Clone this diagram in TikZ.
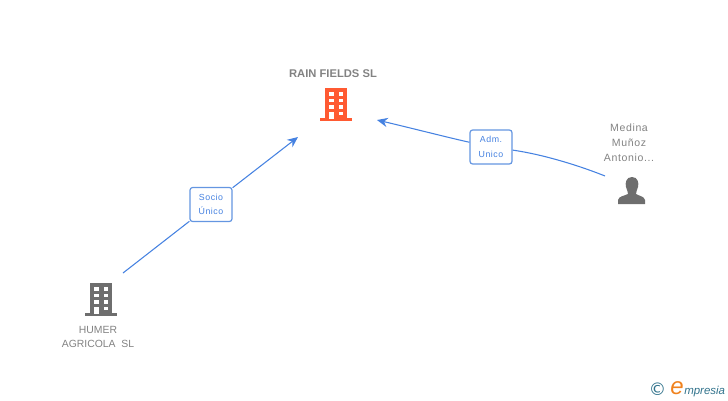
\documentclass[tikz,border=0pt]{standalone}
\usepackage{fontspec}
\setmainfont{Liberation Sans}
\newfontfamily\dejavu{DejaVu Sans}
\newfontfamily\spaced[LetterSpace=6]{Liberation Sans}
\usetikzlibrary{arrows.meta}
\definecolor{linkblue}{RGB}{70,130,225}
\definecolor{boxblue}{RGB}{100,150,225}
\definecolor{textgrey}{RGB}{130,130,130}
\definecolor{icongrey}{RGB}{110,110,110}
\definecolor{iconred}{RGB}{255,90,50}
\definecolor{logoteal}{RGB}{50,115,140}
\definecolor{logoorange}{RGB}{240,130,30}
\tikzset{
  link/.style={draw=linkblue,line width=0.8pt},
  tagbox/.style={draw=boxblue,line width=0.9pt,fill=white,rounded corners=2pt,minimum width=31.5pt,minimum height=25.5pt,inner sep=0pt,align=center,text=linkblue,font=\spaced\fontsize{6.6}{11}\selectfont},
  caption/.style={inner sep=0pt,align=center,text=textgrey,font=\fontsize{7.8}{11.2}\selectfont},
  buildingicon/.pic={
    \fill (-11,0) rectangle (11,30);
    \fill (-16,30) rectangle (16,33);
    \foreach \ypos in {4,10.5,17} {
      \fill[white] (-7,\ypos) rectangle (-2.5,\ypos+3.8);
    }
    \foreach \ypos in {4,10.5,17,23.5} {
      \fill[white] (2.5,\ypos) rectangle (7,\ypos+3.8);
    }
    \fill[white] (-7,23.5) rectangle (-2.5,31);
  }
}

\begin{document}
\begin{tikzpicture}[x=0.75pt,y=0.75pt,yscale=-1,xscale=1]
\useasboundingbox (0,0) rectangle (728,400);

% Buildings
\pic[iconred,yscale=-1] at (336,88) {buildingicon};
\pic[icongrey,yscale=-1] at (101,283) {buildingicon};

% Person
\fill[icongrey] (632,177) .. controls (626,177) and (625,183) .. (626,187) .. controls (627,190) and (628,192) .. (628,194) .. controls (624,196) and (619,196) .. (618,200) -- (618,204) -- (645,204) -- (645,200) .. controls (644,196) and (639,196) .. (636,194) .. controls (636,192) and (637,190) .. (638,187) .. controls (639,183) and (638,177) .. (632,177) -- cycle;

% Text Node
\node[inner sep=0pt,text=textgrey,font=\bfseries\fontsize{8.4}{11}\selectfont] (rainfields) at (333,74) {RAIN FIELDS SL};
\node[caption] (humer) at (98,337) {HUMER\\AGRICOLA\ \ SL};
\node[caption,font=\spaced\fontsize{7.9}{11.2}\selectfont] (medina) at (629,143) {Medina\\Muñoz\\Antonio...};

% Tags
\node[tagbox] (socio) at (211,204.5) {Socio\\Único};
\node[tagbox] (adm) at (491,147) {Adm.\\Unico};

\coordinate (humerend) at (123,273);
\coordinate (rainleft) at (298,137);
\coordinate (medinaend) at (605,176);
\coordinate (rainright) at (377,120);

% Straight Lines
\draw[link] (humerend) -- (socio);
\draw[link,-{Stealth[length=8pt,width=7pt]}] (socio) -- (rainleft);
\draw[link] (medinaend) .. controls (575,164) and (540,154) .. (adm);
\draw[link,-{Stealth[length=8pt,width=7pt]}] (adm) .. controls (450,138) and (415,129) .. (rainright);

% Logo
\node[inner sep=0pt,text=logoteal,font=\dejavu\fontsize{13}{13}\selectfont] (copyright) at (657.5,389) {©};
\node[inner sep=0pt,anchor=base west,text=logoorange,font=\itshape\fontsize{18}{18}\selectfont] (logoe) at (670,394) {e};
\node[inner sep=0pt,anchor=base west,text=logoteal,font=\itshape\fontsize{8.6}{10}\selectfont] (logotext) at (684,394) {mpresia};

\end{tikzpicture}
\end{document}
